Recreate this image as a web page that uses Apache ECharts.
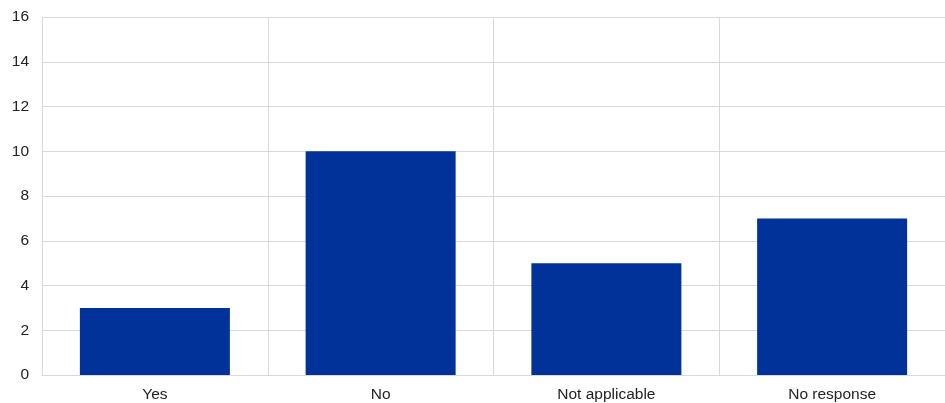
<!DOCTYPE html>
<html>
<head>
<meta charset="utf-8">
<script src="https://cdn.jsdelivr.net/npm/echarts@6/dist/echarts.min.js"></script>
<style>html,body{margin:0;padding:0;background:#fff;}#c{width:945px;height:403px;}</style>
</head>
<body>
<div id="c"></div>
<script>
const categories = ["Yes", "No", "Not applicable", "No response"];
const values = [3, 10, 5, 7];

const chart = echarts.init(document.getElementById('c'), null, {renderer: 'canvas'});
chart.setOption({
  animation: false,
  grid: {left: 42, right: 0, top: 17, bottom: 27, containLabel: false},
  xAxis: {
    type: 'category',
    data: categories,
    axisLine: {show: true, lineStyle: {color: '#d9d9d9', width: 1}},
    axisTick: {show: false},
    splitLine: {show: true, lineStyle: {color: '#d9d9d9', width: 1}},
    axisLabel: {color: '#222', fontFamily: '"Liberation Sans", Arial, sans-serif', fontSize: 15.5, margin: 12}
  },
  yAxis: {
    type: 'value',
    min: 0, max: 16, interval: 2,
    axisLine: {show: false},
    axisTick: {show: false},
    splitLine: {show: true, lineStyle: {color: '#d9d9d9', width: 1}},
    axisLabel: {color: '#222', fontFamily: '"Liberation Sans", Arial, sans-serif', fontSize: 15.5, margin: 13}
  },
  series: [{
    type: 'bar',
    data: values,
    barWidth: 150,
    itemStyle: {color: '#003299'}
  }]
});
</script>
</body>
</html>
